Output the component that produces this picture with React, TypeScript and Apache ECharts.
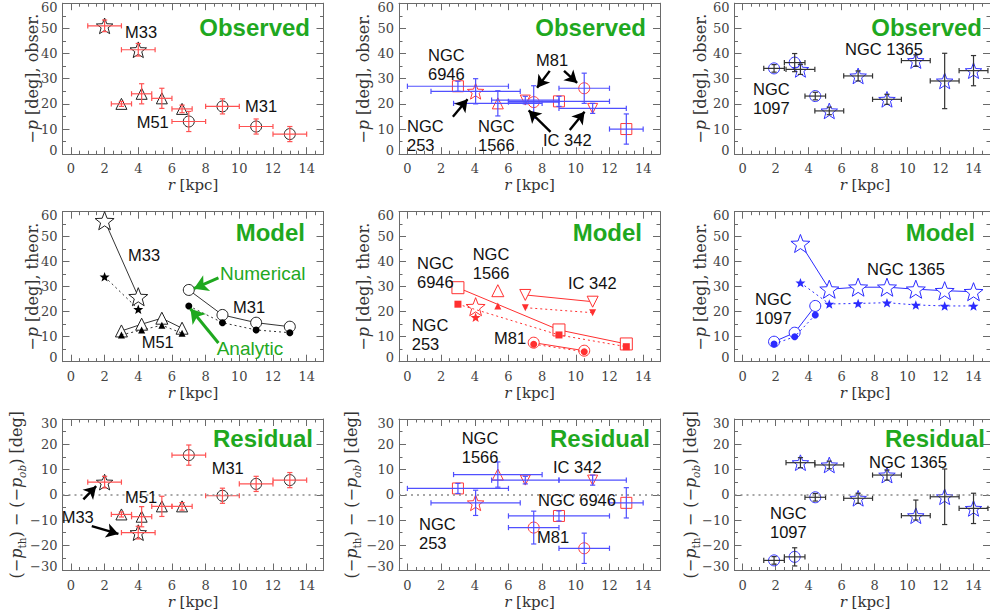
import React, { useEffect, useRef } from "react";
import * as echarts from "echarts";

// Radii in kpc, pitch angles in degrees.
// ---- M33, M51, M31 ----
const m33R = [2, 4];
const m33RErr = [1, 1];
const m33Obs = [51, 41.5];
const m33ObsErr = [2.3, 2.5];
const m33Num = [56.4, 26];
const m33Ana = [34, 21];
const m33Res = [5, -15];

const m51R = [3.0, 4.2, 5.4, 6.6];
const m51RErr = [0.6, 0.6, 0.6, 0.6];
const m51Obs = [20, 24, 22.2, 18];
const m51ObsErr = [1, 4, 4, 1.5];
const m51Num = [12.3, 15, 17.4, 13.4];
const m51Ana = [10.7, 12.7, 14.6, 11.4];
const m51Res = [-7.8, -8.7, -4.6, -4.6];

const m31R = [7, 9, 11, 13];
const m31RErr = [1, 1, 1, 1];
const m31Obs = [13, 19, 11, 8];
const m31ObsErr = [4, 3, 3, 3];
const m31Num = [28.7, 18.7, 15.6, 14];
const m31Ana = [22.3, 15.6, 12.7, 11.6];
const m31Res = [15.7, -0.4, 4.3, 5.8];

// ---- NGC 6946, NGC 253, NGC 1566, IC 342, M81 ----
const n6946R = [3, 9, 13];
const n6946RErr = [3, 3, 1];
const n6946Obs = [27, 21, 10];
const n6946ObsErr = [2, 2, 6];
const n6946Num = [29.6, 12.7, 7.1];
const n6946Ana = [23, 10.7, 6];
const n6946Res = [2.5, -8.4, -3.2];

const n253R = [4.05];
const n253RErr = [2.65];
const n253Obs = [25];
const n253ObsErr = [5];
const n253Num = [22];
const n253Ana = [17.8];
const n253Res = [-3.2];

const n1566R = [5.37];
const n1566RErr = [2.63];
const n1566Obs = [20.2];
const n1566ObsErr = [5];
const n1566Num = [28.4];
const n1566Ana = [22.3];
const n1566Res = [8];

const ic342R = [7, 11];
const ic342RErr = [2, 2];
const ic342Obs = [21.5, 18.2];
const ic342ObsErr = [1.5, 2];
const ic342Num = [26.7, 24];
const ic342Ana = [21.6, 19.6];
const ic342Res = [5.8, 5.8];

const m81R = [7.5, 10.5];
const m81RErr = [1.5, 1.5];
const m81Obs = [20.7, 26.2];
const m81ObsErr = [6.5, 6];
const m81Num = [7.6, 4.4];
const m81Ana = [7, 4];
const m81Res = [-13, -21.2];

// ---- NGC 1097, NGC 1365 ----
const n1097R = [1.9, 3.15, 4.4];
const n1097RErr = [0.625, 0.625, 0.625];
const n1097Obs = [34.1, 36.4, 23.1];
const n1097ObsErr = [1.5, 3.6, 1.5];
const n1097Num = [8, 11.6, 22.3];
const n1097Ana = [7.1, 10, 18.7];
const n1097Res = [-26, -24.6, -1];

const n1365R = [3.5, 5.25, 7, 8.75, 10.5, 12.25, 14];
const n1365RErr = [0.875, 0.875, 0.875, 0.875, 0.875, 0.875, 0.875];
const n1365Obs = [33.7, 17.2, 31.1, 21.8, 37.2, 29.1, 33.2];
const n1365ObsErr = [2, 1.5, 2, 2, 2.3, 11, 6];
const n1365Num = [47.3, 29, 29.8, 29.8, 29, 28.4, 28];
const n1365Ana = [31.6, 23.1, 23.3, 23.6, 22.7, 22.3, 22.3];
const n1365Res = [12.7, 11.8, -1.4, 7.8, -8.3, -0.8, -5.4];
const n1365ResErr: (number | number[])[] = [2, 1.5, 2, 2, [1.7, 6.2], 11, 6];

// Axes
const radiusRange = [-0.5, 15];
const radiusTicks = [0, 2, 4, 6, 8, 10, 12, 14];
const pitchRange = [0, 60];
const residualRange = [-30, 30];

// Annotation arrows: [r0, p0, r1, p1], head at the second point
const observedArrows = [
  [2.7, 14.9, 3.57, 21.8],
  [8.45, 33.1, 7.7, 26.4],
  [9.3, 33.1, 10.08, 28.3],
  [8.5, 8.9, 7.2, 17.4],
  [9.64, 9.6, 10.52, 16.9],
];
const residualArrows = [
  [0.74, -1.8, 1.5, 3.4],
  [1.24, -12.4, 2.82, -15.5],
];
const modelArrows = [
  [8.76, 33.5, 7.3, 29.2],
  [8.76, 7.5, 7.1, 21.2],
];

// ---------- styling / layout ----------
const COL_LEFT = [62.5, 399, 734.5];
const ROW_TOP = [3.2, 211.7, 419];
const ROW_HEIGHT = [151, 150, 151.5];
const PLOT_W = 261;
const FRAME = "#6a6a6a";
const LABEL = "#444";
const SERIF = '"DejaVu Serif", "Liberation Serif", serif';
const SANS = '"Liberation Sans", Arial, sans-serif';
const GREEN = "#1fa81f";

const COL_STYLE = [
  { sym: "#222", bar: "#ff5252", model: "#333" },
  { sym: "#ff3a3a", bar: "#5050ff", model: "#ff3030" },
  { sym: "#3434ff", bar: "#333", model: "#2b2bff" },
];

const STAR_PATH = (() => {
  const pts: string[] = [];
  for (let k = 0; k < 10; k++) {
    const rad = k % 2 === 0 ? 50 : 21;
    const a = -Math.PI / 2 + (k * Math.PI) / 5;
    pts.push(`${(50 + rad * Math.cos(a)).toFixed(2)},${(50 + rad * Math.sin(a)).toFixed(2)}`);
  }
  return "path://M" + pts.join("L") + "Z";
})();

const SIZES: Record<string, Record<string, number>> = {
  obs: { star: 16.5, triangle: 11, downTriangle: 10, circle: 11, square: 11 },
  num: { star: 19, triangle: 12, downTriangle: 11, circle: 11, square: 12 },
  ana: { star: 10, triangle: 7, downTriangle: 7, circle: 7, square: 7 },
};

function marker(kind: string, variant: string) {
  const symbol =
    kind === "star" ? STAR_PATH : kind === "square" ? "rect" : kind === "circle" ? "circle" : "triangle";
  return { symbol, symbolSize: SIZES[variant][kind], symbolRotate: kind === "downTriangle" ? 180 : 0 };
}

type Galaxy = {
  col: number;
  kind: string;
  r: number[];
  rErr: number[];
  obs: number[];
  obsErr: (number | number[])[];
  num: number[];
  ana: number[];
  res: number[];
  resErr: (number | number[])[];
};

const galaxies: Galaxy[] = [
  { col: 0, kind: "star", r: m33R, rErr: m33RErr, obs: m33Obs, obsErr: m33ObsErr, num: m33Num, ana: m33Ana, res: m33Res, resErr: m33ObsErr },
  { col: 0, kind: "triangle", r: m51R, rErr: m51RErr, obs: m51Obs, obsErr: m51ObsErr, num: m51Num, ana: m51Ana, res: m51Res, resErr: m51ObsErr },
  { col: 0, kind: "circle", r: m31R, rErr: m31RErr, obs: m31Obs, obsErr: m31ObsErr, num: m31Num, ana: m31Ana, res: m31Res, resErr: m31ObsErr },
  { col: 1, kind: "square", r: n6946R, rErr: n6946RErr, obs: n6946Obs, obsErr: n6946ObsErr, num: n6946Num, ana: n6946Ana, res: n6946Res, resErr: n6946ObsErr },
  { col: 1, kind: "star", r: n253R, rErr: n253RErr, obs: n253Obs, obsErr: n253ObsErr, num: n253Num, ana: n253Ana, res: n253Res, resErr: n253ObsErr },
  { col: 1, kind: "triangle", r: n1566R, rErr: n1566RErr, obs: n1566Obs, obsErr: n1566ObsErr, num: n1566Num, ana: n1566Ana, res: n1566Res, resErr: n1566ObsErr },
  { col: 1, kind: "downTriangle", r: ic342R, rErr: ic342RErr, obs: ic342Obs, obsErr: ic342ObsErr, num: ic342Num, ana: ic342Ana, res: ic342Res, resErr: ic342ObsErr },
  { col: 1, kind: "circle", r: m81R, rErr: m81RErr, obs: m81Obs, obsErr: m81ObsErr, num: m81Num, ana: m81Ana, res: m81Res, resErr: m81ObsErr },
  { col: 2, kind: "circle", r: n1097R, rErr: n1097RErr, obs: n1097Obs, obsErr: n1097ObsErr, num: n1097Num, ana: n1097Ana, res: n1097Res, resErr: n1097ObsErr },
  { col: 2, kind: "star", r: n1365R, rErr: n1365RErr, obs: n1365Obs, obsErr: n1365ObsErr, num: n1365Num, ana: n1365Ana, res: n1365Res, resErr: n1365ResErr },
];

// Galaxy name labels: [text, left x, centre y]
const notes: [string, number, number][] = [
  ["M33", 125, 31.7], ["M51", 136.7, 122.3], ["M31", 245, 106],
  ["NGC\n6946", 428, 64], ["NGC\n253", 407, 135], ["NGC\n1566", 478, 135], ["M81", 536, 60], ["IC 342", 543, 140],
  ["NGC 1365", 845, 49.3], ["NGC\n1097", 753, 98.3],
  ["M33", 128, 255], ["M51", 141.7, 341.7], ["M31", 233, 306.7],
  ["NGC\n6946", 417, 272.5], ["NGC\n1566", 472.7, 263], ["IC 342", 568, 283.3], ["NGC\n253", 411.7, 334], ["M81", 494, 338.3],
  ["NGC 1365", 867, 269.3], ["NGC\n1097", 755, 308.8],
  ["M31", 211.7, 468.3], ["M51", 125, 496.7], ["M33", 61.7, 516.7],
  ["NGC\n1566", 461.7, 447], ["IC 342", 553, 466.7], ["NGC 6946", 538, 500], ["NGC\n253", 419, 533.3], ["M81", 537, 537.3],
  ["NGC 1365", 869, 461.5], ["NGC\n1097", 770, 522.5],
];

const PANEL_TITLES = ["Observed", "Model", "Residual"];
const TITLE_RIGHT = [
  [310, 646, 982],
  [305, 642, 975],
  [313, 650, 985],
];
const TITLE_Y = [27.5, 232.5, 438.5];

function errorBarRenderer(color: string) {
  return (_params: any, api: any) => {
    const x = api.value(0);
    const y = api.value(1);
    const x0 = api.value(2);
    const x1 = api.value(3);
    const y0 = api.value(4);
    const y1 = api.value(5);
    const cap = 2.6;
    const st = { stroke: color, lineWidth: 1.2 };
    const seg = (a: number[], b: number[]) => ({
      type: "line",
      shape: { x1: a[0], y1: a[1], x2: b[0], y2: b[1] },
      style: st,
    });
    const children: any[] = [];
    if (x1 > x0) {
      const a = api.coord([x0, y]);
      const b = api.coord([x1, y]);
      children.push(seg(a, b), seg([a[0], a[1] - cap], [a[0], a[1] + cap]), seg([b[0], b[1] - cap], [b[0], b[1] + cap]));
    }
    if (y1 > y0) {
      const a = api.coord([x, y0]);
      const b = api.coord([x, y1]);
      children.push(seg(a, b), seg([a[0] - cap, a[1]], [a[0] + cap, a[1]]), seg([b[0] - cap, b[1]], [b[0] + cap, b[1]]));
    }
    return { type: "group", children };
  };
}

function axesFor(g: number, yRange: number[]) {
  const lineStyle = { color: FRAME, width: 1 };
  const xBase = { type: "value", gridIndex: g, min: radiusRange[0], max: radiusRange[1], splitLine: { show: false } };
  const minorT = { show: true, inside: true, length: 3.5, lineStyle };
  const majorT = { show: true, inside: true, length: 7, lineStyle, customValues: radiusTicks };
  const xs = [
    {
      ...xBase, position: "bottom", interval: 0.5,
      axisLine: { show: true, onZero: false, lineStyle }, axisTick: minorT,
      axisLabel: { show: true, customValues: radiusTicks, margin: 8, fontFamily: SERIF, fontSize: 13, color: LABEL },
    },
    { ...xBase, position: "bottom", axisLine: { show: false, onZero: false }, axisTick: majorT, axisLabel: { show: false } },
    { ...xBase, position: "top", interval: 0.5, axisLine: { show: true, onZero: false, lineStyle }, axisTick: minorT, axisLabel: { show: false } },
    { ...xBase, position: "top", axisLine: { show: false, onZero: false }, axisTick: majorT, axisLabel: { show: false } },
  ];
  const [lo, hi] = yRange;
  const labStyle = { fontFamily: SERIF, fontSize: 13, color: LABEL };
  const yBase = {
    type: "value", gridIndex: g, min: lo, max: hi, interval: 10,
    splitLine: { show: false }, minorSplitLine: { show: false },
    axisLine: { show: true, onZero: false, lineStyle },
    axisTick: { show: true, inside: true, length: 7, lineStyle },
    minorTick: { show: true, splitNumber: 2, length: 3.5, lineStyle },
  };
  const ys = [
    {
      ...yBase, position: "left",
      axisLabel: {
        show: true, margin: 5, ...labStyle,
        formatter: (v: number) => {
          const s = v < 0 ? "\u2212" + -v : String(v);
          if (v === hi) return `{t|${s}}`;
          if (v === lo) return `{b|${s}}`;
          return s;
        },
        rich: { t: { ...labStyle, padding: [8, 0, 0, 0] }, b: { ...labStyle, padding: [0, 0, 8, 0] } },
      },
    },
    { ...yBase, position: "right", axisLabel: { show: false } },
  ];
  return { xs, ys };
}

function arrowLines(list: number[][], color: string, width: number, head: number[]) {
  return list.map(([a, b, c, d]) => [
    { coord: [a, b], symbol: "none", lineStyle: { color, width, type: "solid" } },
    { coord: [c, d], symbol: "arrow", symbolSize: head, lineStyle: { color, width, type: "solid" } },
  ]);
}

function text(x: number, y: number, str: string, style: any, rotation = 0) {
  return {
    type: "text", x, y, rotation, silent: true, z: 50,
    style: { legacy: false, text: str, align: "left", verticalAlign: "middle", ...style },
  };
}

function buildOption() {
  const grid: any[] = [];
  const xAxis: any[] = [];
  const yAxis: any[] = [];
  const series: any[] = [];
  const graphics: any[] = [];

  for (let row = 0; row < 3; row++) {
    for (let col = 0; col < 3; col++) {
      const g = row * 3 + col;
      grid.push({ left: COL_LEFT[col], top: ROW_TOP[row], width: PLOT_W, height: ROW_HEIGHT[row], containLabel: false });
      const { xs, ys } = axesFor(g, row === 2 ? residualRange : pitchRange);
      xAxis.push(...xs);
      yAxis.push(...ys);
      const xi = g * 4;
      const yi = g * 2;
      const cs = COL_STYLE[col];
      const panelSeries: any[] = [];

      galaxies.filter((gal) => gal.col === col).forEach((gal) => {
        if (row === 1) {
          const mn = marker(gal.kind, "num");
          const ma = marker(gal.kind, "ana");
          panelSeries.push({
            type: "line", xAxisIndex: xi, yAxisIndex: yi, silent: true, z: 2,
            data: gal.r.map((x, i) => [x, gal.num[i]]),
            ...mn, symbolKeepAspect: true, showSymbol: true,
            lineStyle: { color: cs.model, width: 1, type: "solid" },
            itemStyle: { color: "#fff", borderColor: cs.model === "#333" ? "#222" : cs.model, borderWidth: 1 },
          });
          panelSeries.push({
            type: "line", xAxisIndex: xi, yAxisIndex: yi, silent: true, z: 3,
            data: gal.r.map((x, i) => [x, gal.ana[i]]),
            ...ma, symbolKeepAspect: true, showSymbol: true,
            lineStyle: { color: cs.model, width: 1, type: [2, 3] },
            itemStyle: { color: cs.model === "#333" ? "#000" : cs.model, borderWidth: 0 },
          });
        } else {
          const vals = row === 0 ? gal.obs : gal.res;
          const errs = row === 0 ? gal.obsErr : gal.resErr;
          const m = marker(gal.kind, "obs");
          panelSeries.push({
            type: "scatter", xAxisIndex: xi, yAxisIndex: yi, silent: true, z: 3,
            data: gal.r.map((x, i) => [x, vals[i]]),
            ...m, symbolKeepAspect: true,
            itemStyle: { color: "rgba(0,0,0,0)", borderColor: cs.sym, borderWidth: 1, opacity: 1 },
          });
          panelSeries.push({
            type: "custom", xAxisIndex: xi, yAxisIndex: yi, silent: true, z: 4, clip: false,
            renderItem: errorBarRenderer(cs.bar),
            encode: { x: [0, 2, 3], y: [1, 4, 5] },
            data: gal.r.map((x, i) => {
              const e = errs[i];
              const dn = Array.isArray(e) ? e[0] : e;
              const up = Array.isArray(e) ? e[1] : e;
              return [x, vals[i], x - gal.rErr[i], x + gal.rErr[i], vals[i] - dn, vals[i] + up];
            }),
          });
        }
      });

      // reference lines and arrows on the first series of the panel
      const mlData: any[] = [];
      if (row === 2) {
        mlData.push({ yAxis: 0, lineStyle: { color: "#8a8a8a", width: 1.6, type: [2, 4] } });
      }
      if (row === 0 && col === 1) mlData.push(...arrowLines(observedArrows, "#000", 2.4, [11, 12]));
      if (row === 2 && col === 0) mlData.push(...arrowLines(residualArrows, "#000", 2.4, [11, 12]));
      if (row === 1 && col === 0) mlData.push(...arrowLines(modelArrows, GREEN, 3, [13, 14]));
      if (mlData.length) {
        const host = panelSeries.find((s) => s.type !== "custom");
        host.markLine = {
          silent: true, animation: false, symbol: ["none", "none"], label: { show: false },
          lineStyle: { type: "solid" }, emphasis: { disabled: true }, data: mlData,
        };
      }
      series.push(...panelSeries);

      // panel title
      graphics.push(
        text(TITLE_RIGHT[row][col], TITLE_Y[row], PANEL_TITLES[row], {
          align: "right", fill: GREEN, fontFamily: SANS, fontWeight: "bold", fontSize: 24,
        })
      );

      // axis titles
      const cx = COL_LEFT[col] + PLOT_W / 2;
      const base = { fontFamily: SERIF, fontSize: 15, fill: "#333" };
      graphics.push(
        text(cx, ROW_TOP[row] + ROW_HEIGHT[row] + 31, "{i|r}{n| [kpc]}", {
          align: "center",
          rich: { i: { ...base, fontStyle: "italic" }, n: { ...base } },
        })
      );
      const yc = ROW_TOP[row] + ROW_HEIGHT[row] / 2;
      const yBase = { fontFamily: SERIF, fontSize: 16, fill: "#333", lineHeight: 22, verticalAlign: "middle" };
      if (row < 2) {
        const tx = [32, 363, 700][col];
        graphics.push(
          text(
            tx, yc,
            `{n|\u2212}{i|p}{n| [deg], ${row === 0 ? "obser." : "theor."}}`,
            { align: "center", rich: { n: yBase, i: { ...yBase, fontStyle: "italic" } } },
            Math.PI / 2
          )
        );
      } else {
        const tx = [16, 351.5, 690][col];
        const sub = { fontFamily: SERIF, fontSize: 10.5, fill: "#333", lineHeight: 10, verticalAlign: "bottom" };
        graphics.push(
          text(
            tx, yc,
            "{n|(\u2212}{i|p}{s|th}{n|) \u2212 (\u2212}{i|p}{si|ob}{n|) [deg]}",
            {
              align: "center",
              rich: { n: yBase, i: { ...yBase, fontStyle: "italic" }, s: sub, si: { ...sub, fontStyle: "italic" } },
            },
            Math.PI / 2
          )
        );
      }
    }
  }

  notes.forEach(([t, x, y]) => {
    graphics.push(text(x, y, t, { fill: "#111", fontFamily: SANS, fontSize: 16.5, lineHeight: 19 }));
  });
  graphics.push(text(220, 273.3, "Numerical", { fill: GREEN, fontFamily: SANS, fontSize: 19 }));
  graphics.push(text(216.7, 348.3, "Analytic", { fill: GREEN, fontFamily: SANS, fontSize: 19 }));

  return {
    animation: false,
    backgroundColor: "#fff",
    grid,
    xAxis,
    yAxis,
    series,
    graphic: { elements: graphics },
  };
}

export default function App() {
  const ref = useRef<HTMLDivElement>(null);
  useEffect(() => {
    if (!ref.current) return;
    const chart = echarts.init(ref.current, undefined, { renderer: "svg" });
    chart.setOption(buildOption() as any);
    return () => chart.dispose();
  }, []);
  return (
    <div
      ref={ref}
      style={{ position: "fixed", left: 0, top: 0, width: 990, height: 613, background: "#fff" }}
    />
  );
}
